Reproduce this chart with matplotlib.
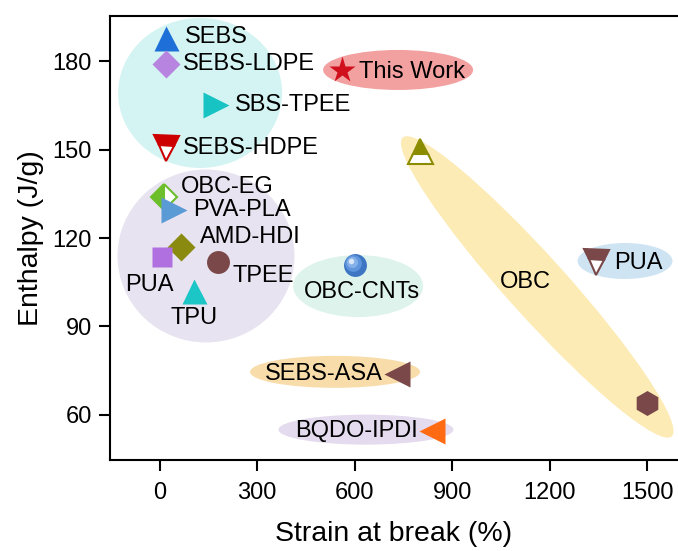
import matplotlib
matplotlib.use("Agg")
import matplotlib.pyplot as plt
import matplotlib.transforms as mtransforms
from matplotlib.patches import Ellipse

plt.rcParams['font.family'] = ['Liberation Sans', 'DejaVu Sans']

# Strain at break (%) and enthalpy (J/g) for each material
names = ['SEBS', 'SEBS-LDPE', 'SBS-TPEE', 'SEBS-HDPE', 'This Work', 'OBC-EG',
         'PVA-PLA', 'AMD-HDI', 'PUA', 'TPEE', 'TPU', 'OBC-CNTs', 'OBC',
         'PUA ', 'OBC ', 'SEBS-ASA', 'BQDO-IPDI']
strain = [20, 20, 174, 20, 560, 15, 45, 66, 8, 180, 106, 600, 800,
          1344, 1500, 731, 838]
enthalpy = [188, 179, 165, 150.5, 177, 134, 129.5, 117, 113.6, 112, 102,
            111, 149.5, 112, 64, 74, 54.5]

# marker, size, face colour, fill style
styles = [
    ('^', 18, '#1f6fd8', 'full'),
    ('D', 14, '#b784e0', 'full'),
    ('>', 19, '#17c3c3', 'full'),
    ('v', 18, '#cc0000', 'top'),
    ('*', 20, '#d0101c', 'full'),
    ('D', 13, '#6cbf2a', 'left'),
    ('>', 19, '#5b9bd5', 'full'),
    ('D', 14, '#8a8a10', 'full'),
    ('s', 15, '#b070e0', 'full'),
    ('o', 16.5, '#7a4848', 'full'),
    ('^', 18, '#1cc6c6', 'full'),
    (None, 16.5, '#4f86d0', 'full'),
    ('^', 18, '#8c8c00', 'top'),
    ('v', 18, '#7a4848', 'top'),
    ('h', 18, '#7a4848', 'full'),
    ('<', 19, '#7a4848', 'full'),
    ('<', 19, '#ff6a13', 'full'),
]

# label text, x, y, horizontal alignment
labels = [
    ('SEBS', 78, 188.1, 'left'),
    ('SEBS-LDPE', 72, 179, 'left'),
    ('SBS-TPEE', 232, 165.1, 'left'),
    ('SEBS-HDPE', 72, 150.5, 'left'),
    ('This Work', 614, 176.3, 'left'),
    ('OBC-EG', 66, 137.3, 'left'),
    ('PVA-PLA', 103, 129.5, 'left'),
    ('AMD-HDI', 125, 120.3, 'left'),
    ('PUA', -106, 104.1, 'left'),
    ('TPEE', 226, 107.1, 'left'),
    ('TPU', 106, 92.9, 'center'),
    ('OBC-CNTs', 623, 101.7, 'center'),
    ('OBC', 1125, 105.1, 'center'),
    ('PUA', 1398, 111.5, 'left'),
    ('SEBS-ASA', 688, 73.9, 'right'),
    ('BQDO-IPDI', 795, 54.6, 'right'),
]

# background groups: centre (data), width & height (pixels), angle, colour
groups = [
    (125, 169.2, 164, 150, 0, '#d3f4f2'),
    (143, 113.9, 177, 173, 0, '#e8e3f1'),
    (734, 177, 150, 40, 0, '#f2a0a0'),
    (611, 103.7, 130, 62, 0, '#ddf3ec'),
    (540, 74.6, 170, 32, 0, '#f8dcaa'),
    (635, 55, 175, 30, 0, '#e4dbee'),
    (1432, 112.2, 95, 36, 0, '#cfe4f2'),
    (1162, 103.4, 402, 60, -48, '#fcebb4'),
]

dpi = 100
fig = plt.figure(figsize=(6.78, 5.51), dpi=dpi)
ax = fig.add_axes([110 / 678, 91 / 551, 568 / 678, 444 / 551])
ax.set_xlim(-152.3, 1595)
ax.set_ylim(44.7, 195.3)

for cx, cy, w, h, ang, col in groups:
    trans = fig.dpi_scale_trans + mtransforms.ScaledTranslation(cx, cy, ax.transData)
    ax.add_patch(Ellipse((0, 0), w / dpi, h / dpi, angle=ang, transform=trans,
                         facecolor=col, edgecolor='none', zorder=1))

for x, y, (m, ms, c, fs) in zip(strain, enthalpy, styles):
    if m is None:
        # shaded sphere
        ax.plot(x, y, 'o', ms=ms, color='#3f76c4', mec='none', zorder=3)
        for k, (s, cc) in enumerate([(12, '#5f95dc'), (8, '#86b1e8'), (4, '#d8e7f8')]):
            off = mtransforms.ScaledTranslation(-0.012 * (k + 1), 0.012 * (k + 1),
                                                fig.dpi_scale_trans)
            ax.plot(x, y, 'o', ms=s, color=cc, mec='none', zorder=3,
                    transform=ax.transData + off)
        continue
    if fs == 'full':
        ax.plot(x, y, m, ms=ms, color=c, mec='none', zorder=3)
    else:
        ax.plot(x, y, m, ms=ms, color=c, fillstyle=fs, markerfacecoloralt='white',
                mec=c, mew=1.5, zorder=3)

for txt, x, y, ha in labels:
    ax.text(x, y, txt, ha=ha, va='center', fontsize=17, zorder=4)

ax.spines['right'].set_visible(False)
for s in ['left', 'top', 'bottom']:
    ax.spines[s].set_linewidth(1.5)
ax.set_xticks([0, 300, 600, 900, 1200, 1500])
ax.set_yticks([60, 90, 120, 150, 180])
ax.tick_params(direction='out', length=8, width=1.5, labelsize=17, pad=8)
ax.tick_params(axis='y', pad=5)
ax.set_xlabel('Strain at break (%)', fontsize=20.5, labelpad=12)
ax.set_ylabel('Enthalpy (J/g)', fontsize=20.5, labelpad=6)

fig.savefig('out.png', dpi=dpi)
